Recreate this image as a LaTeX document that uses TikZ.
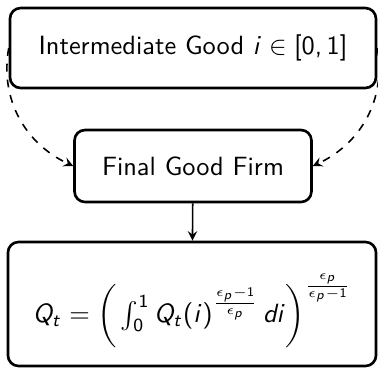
\documentclass[tikz,border=0pt]{standalone}
\usetikzlibrary{arrows}
% sans math in the manner of a beamer slide
\DeclareSymbolFont{sfops}{OT1}{cmss}{m}{n}
\DeclareSymbolFont{sfit}{OT1}{cmss}{m}{sl}
\DeclareMathAlphabet{\mathsfbf}{OT1}{cmss}{bx}{n}
\DeclareMathSymbol{Q}{\mathalpha}{sfit}{`Q}
\DeclareMathSymbol{t}{\mathalpha}{sfit}{`t}
\DeclareMathSymbol{i}{\mathalpha}{sfit}{`i}
\DeclareMathSymbol{d}{\mathalpha}{sfit}{`d}
\DeclareMathSymbol{p}{\mathalpha}{sfit}{`p}
\DeclareMathSymbol{0}{\mathord}{sfops}{`0}
\DeclareMathSymbol{1}{\mathord}{sfops}{`1}
\DeclareMathSymbol{,}{\mathpunct}{sfops}{`,}
\DeclareMathSymbol{(}{\mathopen}{sfops}{`(}
\DeclareMathSymbol{)}{\mathclose}{sfops}{`)}
\DeclareMathSymbol{[}{\mathopen}{sfops}{`[}
\DeclareMathSymbol{]}{\mathclose}{sfops}{`]}
\DeclareMathSymbol{=}{\mathrel}{sfops}{`=}
\begin{document}
\begin{tikzpicture}[
  x=0.379pt, y=-0.379pt,
  font=\sffamily,
  box/.style={draw, line width=1pt, rounded corners=4pt, align=center},
  arrow/.style={-stealth, line width=0.6pt},
  feed/.style={-stealth, dashed, line width=0.6pt}
]
\useasboundingbox (0,0) rectangle (378,369);

\node[box, minimum width=138.7pt, minimum height=30.3pt] (inter) at (193,48) {Intermediate Good $i \in [0,1]$};
\node[box, minimum width=89.8pt, minimum height=27.3pt] (final) at (193,166) {Final Good Firm};
\node[box, minimum width=139.5pt, minimum height=47pt] (agg) at (192,304)
  {\raisebox{-7pt}[0pt][0pt]{$Q_t = \bigg( \int_0^1 Q_t(i)^{\frac{\epsilon_p-\mathsfbf{1}}{\epsilon_p}}\, di \bigg)^{\frac{\epsilon_p}{\epsilon_p-\mathsfbf{1}}}$}};

\draw[feed] (inter.west) to[out=-100, in=155] (final.west);
\draw[feed] (inter.east) to[out=-80, in=25] (final.east);
\draw[arrow] (final) -- (agg);
\end{tikzpicture}
\end{document}
